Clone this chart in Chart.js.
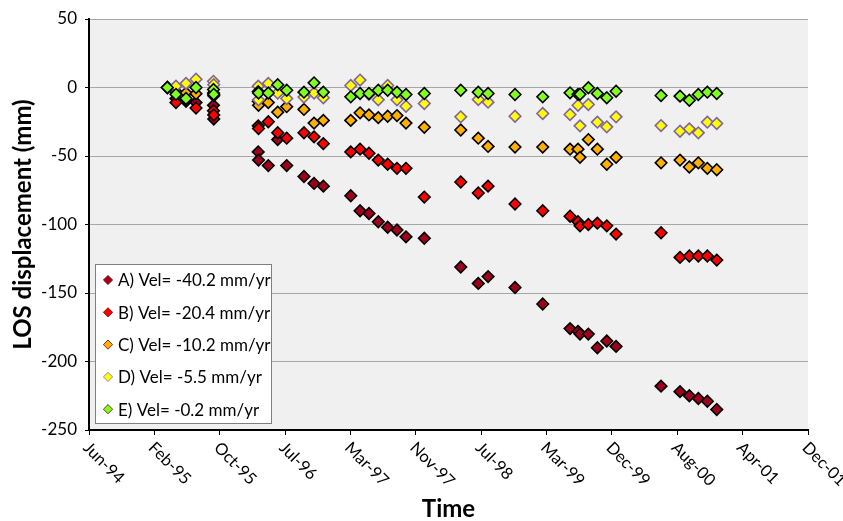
<!DOCTYPE html>
<html>
<head>
<meta charset="utf-8">
<script src="https://cdn.jsdelivr.net/npm/chart.js@4.4.0/dist/chart.umd.min.js"></script>
<style>
  body { margin: 0; background: #fff; }
  #wrap { width: 843px; height: 521px; }
</style>
</head>
<body>
<div id="wrap"><canvas id="chartLos"></canvas></div>
<script>
// acquisition dates as decimal years
const dates = [
  1995.283, 1995.373, 1995.478, 1995.582, 1995.764, 1995.767,
  1996.231, 1996.234, 1996.336, 1996.434, 1996.528, 1996.708, 1996.813, 1996.910,
  1997.196, 1997.293, 1997.386, 1997.483, 1997.581, 1997.678, 1997.772, 1997.963,
  1998.343, 1998.526, 1998.628, 1998.909, 1999.198,
  1999.483, 1999.566, 1999.587, 1999.674, 1999.768, 1999.866, 1999.963,
  2000.432, 2000.630, 2000.727, 2000.821, 2000.915, 2001.013
];
const seriesA = [
  0, -8, -10, -11, -13, -23,
  -47, -53, -57, -38, -57, -65, -70, -72,
  -79, -90, -92, -98, -102, -104, -109, -110,
  -131, -143, -138, -146, -158,
  -176, -178, -180, -180, -190, -185, -189,
  -218, -222, -225, -227, -229, -235
];
const seriesB = [
  0, -11, -9, -15, -17, -20,
  -28, -30, -25, -33, -37, -33, -36, -41,
  -47, -45, -48, -53, -56, -59, -59, -80,
  -69, -77, -72, -85, -90,
  -94, -98, -101, -100, -99, -101, -107,
  -106, -124, -123, -123, -123, -126
];
const seriesC = [
  0, -3, -4, -4.5, -4, -6,
  -10, -13, -11, -18, -14, -16, -26, -24,
  -24, -18.5, -20, -22, -21, -20.5, -26, -29,
  -31, -37, -43, -43.5, -43.5,
  -45, -45, -51, -38, -45, -56, -51,
  -55, -53, -58, -55, -59, -60
];
const seriesD = [
  0, 1, 3, 6, 4.5, 2,
  1, -9, 3, -4, -8, -7, -4, -7.5,
  1.5, 5.4, -5, -9, 1.5, -9, -13.7, -11.7,
  -21.4, -8.8, -10.7, -21, -19,
  -19.7, -13, -28, -12.4, -25.3, -28.7, -21.4,
  -27.8, -31.9, -30.2, -33.1, -25.3, -26.3
];
const seriesE = [
  0, -5, -8, 0, -1.5, -5,
  -3, -4, -4, 2, -2, -3.4, 3.4, -3.4,
  -6.8, -4.4, -4.4, -2, -2, -3.4, -5.1, -4.4,
  -2, -3.4, -4.4, -5.1, -6.8,
  -3.9, -5, -5, -0.2, -4.4, -7.5, -2.7,
  -5.8, -6.3, -9.3, -5.1, -3.4, -4.4
];
const seriesNames = [
  'A) Vel= -40.2 mm/yr',
  'B) Vel= -20.4 mm/yr',
  'C) Vel= -10.2 mm/yr',
  'D) Vel= -5.5 mm/yr',
  'E) Vel= -0.2 mm/yr'
];
const tickLabels = ['Jun-94', 'Feb-95', 'Oct-95', 'Jul-96', 'Mar-97', 'Nov-97',
  'Jul-98', 'Mar-99', 'Dec-99', 'Aug-00', 'Apr-01', 'Dec-01'];
const axisStart = 1994.466;
const tickStep = 0.6817;

const FONT = 'Lato';
const fills = ['#a0001c', '#ff0000', '#ffb000', '#ffff00', '#80ff20'];
const borders = ['#000', '#000', '#000', '#8064a2', '#000'];

function toPoints(vals) {
  return vals.map((v, i) => ({ x: dates[i], y: v }));
}

const allSeries = [seriesA, seriesB, seriesC, seriesD, seriesE];
const datasets = allSeries.map((vals, i) => ({
  label: seriesNames[i],
  data: toPoints(vals),
  pointStyle: 'rectRot',
  pointRadius: 5.8,
  pointBorderWidth: 1.6,
  backgroundColor: fills[i],
  borderColor: borders[i],
  order: 5 - i, // E drawn on top
}));

const plotBg = {
  id: 'plotBg',
  beforeDraw(chart) {
    const a = chart.chartArea;
    chart.ctx.save();
    chart.ctx.fillStyle = '#f0f0f0';
    chart.ctx.fillRect(a.left, a.top, a.right - a.left, a.bottom - a.top);
    chart.ctx.restore();
  }
};

// rotated month labels under the time axis
const xLabels = {
  id: 'xLabels',
  afterDraw(chart) {
    const ctx = chart.ctx;
    const sc = chart.scales.x;
    ctx.save();
    ctx.font = '16.5px ' + FONT;
    ctx.fillStyle = '#000';
    ctx.textAlign = 'left';
    ctx.textBaseline = 'middle';
    sc.ticks.forEach((t, i) => {
      const px = sc.getPixelForValue(t.value);
      ctx.save();
      ctx.translate(px - 3, sc.top + 15);
      ctx.rotate(Math.PI / 4);
      ctx.fillText(tickLabels[i], 0, 0);
      ctx.restore();
    });
    ctx.restore();
  }
};

const legendBox = {
  id: 'legendBox',
  afterDraw(chart) {
    const ctx = chart.ctx;
    const a = chart.chartArea;
    const bx = a.left + 6, by = a.bottom - 166, bw = 176, bh = 159;
    ctx.save();
    ctx.fillStyle = '#fff';
    ctx.fillRect(bx, by, bw, bh);
    ctx.strokeStyle = '#808080';
    ctx.lineWidth = 1;
    ctx.strokeRect(bx + 0.5, by + 0.5, bw, bh);
    ctx.font = '17px ' + FONT;
    ctx.textBaseline = 'middle';
    chart.data.datasets.forEach((ds, i) => {
      const cy = by + 16 + i * 32.3;
      const cx = bx + 13;
      const r = 4.6;
      ctx.beginPath();
      ctx.moveTo(cx - r, cy);
      ctx.lineTo(cx, cy - r);
      ctx.lineTo(cx + r, cy);
      ctx.lineTo(cx, cy + r);
      ctx.closePath();
      ctx.fillStyle = ds.backgroundColor;
      ctx.fill();
      ctx.strokeStyle = i === 3 ? ds.borderColor : '#600';
      ctx.lineWidth = 0.8;
      ctx.stroke();
      ctx.fillStyle = '#000';
      ctx.fillText(ds.label, bx + 23, cy + 1);
    });
    ctx.restore();
  }
};

new Chart(document.getElementById('chartLos'), {
  type: 'scatter',
  data: { datasets: datasets },
  options: {
    responsive: true,
    maintainAspectRatio: false,
    animation: false,
    layout: { padding: { top: 19, right: 35, left: 0, bottom: 0 } },
    plugins: {
      legend: { display: false },
      tooltip: { enabled: false }
    },
    scales: {
      x: {
        type: 'linear',
        min: axisStart,
        max: axisStart + tickStep * (tickLabels.length - 1),
        afterBuildTicks(scale) {
          scale.ticks = tickLabels.map((_, i) => ({ value: axisStart + i * tickStep }));
        },
        afterFit(scale) { scale.height = 91; },
        ticks: { display: false },
        grid: { drawOnChartArea: false, drawTicks: true, tickLength: 5, color: '#000', tickColor: '#000' },
        border: { color: '#000', width: 2 },
        title: {
          display: true,
          text: 'Time',
          color: '#000',
          font: { family: FONT, size: 24, weight: 'bold', lineHeight: 1 },
          padding: 0
        }
      },
      y: {
        min: -250,
        max: 50,
        afterFit(scale) { scale.width = 89; },
        ticks: {
          stepSize: 50,
          color: '#000',
          padding: 8,
          font: { family: FONT, size: 17 }
        },
        grid: { color: '#a6a6a6', tickColor: '#000', tickLength: 4 },
        border: { color: '#000', width: 2 },
        title: {
          display: true,
          text: 'LOS displacement (mm)',
          color: '#000',
          font: { family: FONT, size: 24, weight: 'bold', lineHeight: 1.1 },
          padding: { top: 10, bottom: 0 }
        }
      }
    }
  },
  plugins: [plotBg, xLabels, legendBox]
});
</script>
</body>
</html>
